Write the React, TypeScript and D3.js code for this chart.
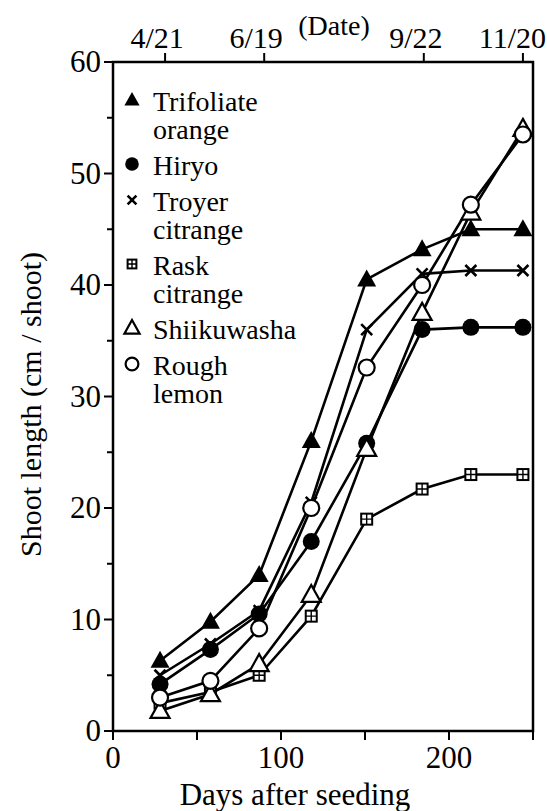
import React, { useEffect, useRef } from "react";
import * as d3 from "d3";

const days = [28, 58, 87, 118, 151, 184, 213, 244];

const trifoliate = [6.3, 9.8, 14, 26, 40.5, 43.2, 45, 45];
const hiryo = [4.2, 7.3, 10.5, 17, 25.8, 36, 36.2, 36.2];
const troyer = [5, 7.8, 10.8, 20.5, 36, 41, 41.3, 41.3];
const rask = [2.5, 3.5, 5, 10.3, 19, 21.7, 23, 23];
const shiikuwasha = [1.8, 3.3, 6, 12.2, 25.3, 37.5, 46.5, 54];
const roughLemon = [3, 4.5, 9.2, 20, 32.6, 40, 47.2, 53.5];

const dateTicks = [31, 90, 185, 244];
const dateLabels = ["4/21", "6/19", "9/22", "11/20"];

interface Series {
  name: string[];
  values: number[];
  marker: string;
}

const series: Series[] = [
  { name: ["Trifoliate", "orange"], values: trifoliate, marker: "triFilled" },
  { name: ["Hiryo"], values: hiryo, marker: "circleFilled" },
  { name: ["Troyer", "citrange"], values: troyer, marker: "cross" },
  { name: ["Rask", "citrange"], values: rask, marker: "squarePlus" },
  { name: ["Shiikuwasha"], values: shiikuwasha, marker: "triOpen" },
  { name: ["Rough", "lemon"], values: roughLemon, marker: "circleOpen" },
];

const font = "'Liberation Serif', 'Times New Roman', serif";

function drawMarker(g: d3.Selection<SVGGElement, unknown, null, undefined>, type: string, s: number) {
  const tri = `M0,${-s} L${s * 0.95},${s * 0.7} L${-s * 0.95},${s * 0.7} Z`;
  if (type === "triFilled") {
    g.append("path").attr("d", tri).attr("fill", "#000");
  } else if (type === "triOpen") {
    g.append("path").attr("d", tri).attr("fill", "#fff").attr("stroke", "#000").attr("stroke-width", 2.2);
  } else if (type === "circleFilled") {
    g.append("circle").attr("r", s * 0.85).attr("fill", "#000");
  } else if (type === "circleOpen") {
    g.append("circle").attr("r", s * 0.8).attr("fill", "#fff").attr("stroke", "#000").attr("stroke-width", 2.2);
  } else if (type === "cross") {
    const c = s * 0.55;
    g.append("path").attr("d", `M${-c},${-c}L${c},${c}M${c},${-c}L${-c},${c}`)
      .attr("stroke", "#000").attr("stroke-width", 2.6);
  } else if (type === "squarePlus") {
    const c = s * 0.55;
    g.append("rect").attr("x", -c).attr("y", -c).attr("width", 2 * c).attr("height", 2 * c)
      .attr("fill", "#fff").attr("stroke", "#000").attr("stroke-width", 2);
    g.append("path").attr("d", `M0,${-c}V${c}M${-c},0H${c}`).attr("stroke", "#000").attr("stroke-width", 1.4);
  }
}

const App: React.FC = () => {
  const svgRef = useRef<SVGSVGElement | null>(null);

  useEffect(() => {
    const width = 547, height = 811;
    const svg = d3.select(svgRef.current).attr("width", width).attr("height", height);
    svg.selectAll("*").remove();

    const left = 113, right = 533, top = 62, bottom = 731;
    const x = d3.scaleLinear().domain([0, 250]).range([left, right]);
    const y = d3.scaleLinear().domain([0, 60]).range([bottom, top]);

    // frame
    svg.append("rect").attr("x", left).attr("y", top).attr("width", right - left).attr("height", bottom - top)
      .attr("fill", "none").attr("stroke", "#000").attr("stroke-width", 2.5);

    // left axis
    const yAxis = svg.append("g");
    yAxis.selectAll("line.maj").data(d3.range(0, 61, 10)).join("line")
      .attr("x1", left - 9).attr("x2", left).attr("y1", d => y(d)).attr("y2", d => y(d))
      .attr("stroke", "#000").attr("stroke-width", 2);
    yAxis.selectAll("line.min").data(d3.range(5, 60, 10)).join("line")
      .attr("x1", left - 6).attr("x2", left).attr("y1", d => y(d)).attr("y2", d => y(d))
      .attr("stroke", "#000").attr("stroke-width", 2);
    yAxis.selectAll("text").data(d3.range(0, 61, 10)).join("text")
      .attr("x", left - 12).attr("y", d => y(d) + 10)
      .attr("text-anchor", "end").attr("font-family", font).attr("font-size", 31)
      .text(d => d);

    // bottom axis
    const xAxis = svg.append("g");
    xAxis.selectAll("line").data(d3.range(0, 251, 50)).join("line")
      .attr("x1", d => x(d)).attr("x2", d => x(d)).attr("y1", bottom).attr("y2", bottom + 9)
      .attr("stroke", "#000").attr("stroke-width", 2);
    xAxis.selectAll("text").data([0, 100, 200]).join("text")
      .attr("x", d => x(d)).attr("y", bottom + 37)
      .attr("text-anchor", "middle").attr("font-family", font).attr("font-size", 31)
      .text(d => d);

    // top axis (dates)
    const tAxis = svg.append("g");
    tAxis.selectAll("line").data(dateTicks).join("line")
      .attr("x1", d => x(d)).attr("x2", d => x(d)).attr("y1", top).attr("y2", top - 9)
      .attr("stroke", "#000").attr("stroke-width", 2);
    tAxis.selectAll("text").data(dateTicks).join("text")
      .attr("x", (d, i) => (i === dateTicks.length - 1 ? 546 : x(d) - 8))
      .attr("y", top - 14)
      .attr("text-anchor", (d, i) => (i === dateTicks.length - 1 ? "end" : "middle"))
      .attr("font-family", font).attr("font-size", 30)
      .text((d, i) => dateLabels[i]);
    svg.append("text").attr("x", 334).attr("y", 35).attr("text-anchor", "middle")
      .attr("font-family", font).attr("font-size", 28).text("(Date)");

    // axis titles
    svg.append("text").attr("transform", `translate(41,${(top + bottom) / 2 + 8}) rotate(-90)`)
      .attr("text-anchor", "middle").attr("font-family", font).attr("font-size", 30)
      .text("Shoot length (cm / shoot)");
    svg.append("text").attr("x", 295).attr("y", 805).attr("text-anchor", "middle")
      .attr("font-family", font).attr("font-size", 31).text("Days after seeding");

    // series
    const line = d3.line<number>().x((d, i) => x(days[i])).y(d => y(d));
    series.forEach(s => {
      svg.append("path").datum(s.values).attr("d", line)
        .attr("fill", "none").attr("stroke", "#000").attr("stroke-width", 2.6);
    });
    series.forEach(s => {
      s.values.forEach((v, i) => {
        const g = svg.append("g").attr("transform", `translate(${x(days[i])},${y(v)})`);
        drawMarker(g, s.marker, 10);
      });
    });

    // legend
    let ly = 102;
    const lg = svg.append("g");
    series.forEach(s => {
      const g = lg.append("g").attr("transform", `translate(132,${ly - 2})`);
      drawMarker(g, s.marker, 8);
      s.name.forEach((n, j) => {
        lg.append("text").attr("x", 153).attr("y", ly + 9 + j * 28)
          .attr("font-family", font).attr("font-size", 28).text(n);
      });
      ly += s.name.length * 28 + 8;
    });
  }, []);

  return <svg ref={svgRef} style={{ position: "absolute", left: 0, top: 0 }}></svg>;
};

export default App;
